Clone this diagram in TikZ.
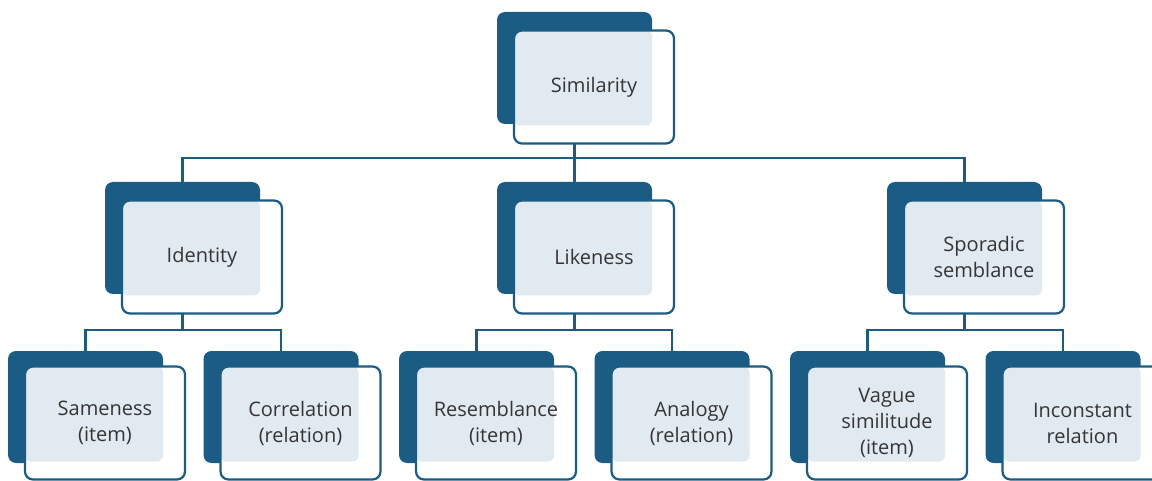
\documentclass[tikz,border=0pt]{standalone}
\usepackage{fontspec}
\setmainfont{Open Sans}
\usetikzlibrary{backgrounds}
\definecolor{dk}{HTML}{1B5C84}
\definecolor{lb}{HTML}{E1EAF1}
\definecolor{tx}{HTML}{353535}
\begin{document}
\begin{tikzpicture}[x=1pt,y=-1pt,
  backbox/.style={rectangle, rounded corners=8pt, fill=dk, minimum width=155pt, minimum height=112pt, inner sep=0pt},
  frontbox/.style={rectangle, rounded corners=8pt, draw=dk, line width=2.2pt, fill=white,
     minimum width=160pt, minimum height=113pt, inner sep=0pt, align=center,
     font=\fontsize{20}{26}\selectfont, text=tx,
     path picture={\fill[lb, rounded corners=6pt] (path picture bounding box.north west) rectangle ([xshift=-22pt, yshift=18pt]path picture bounding box.south east);}},
  conn/.style={draw=dk, line width=2.8pt}]
\useasboundingbox (0,0) rectangle (1152,481);
% bus coordinates
\coordinate (bus1) at (0,158);
\coordinate (bus2) at (0,330);
% level 1
\node[backbox] (simB) at (574.5,68) {};
\node[frontbox] (simF) at (594,87) {Similarity};
% level 2
\node[backbox] (idB) at (182.5,238) {};
\node[frontbox] (idF) at (202,257) {Identity};
\node[backbox] (likB) at (574.5,238) {};
\node[frontbox] (likF) at (594,257) {Likeness};
\node[backbox] (spoB) at (964.5,238) {};
\node[frontbox] (spoF) at (984,257) {Sporadic\\semblance};
% level 3
\node[backbox] (samB) at (85.5,407) {};
\node[frontbox] (samF) at (105,423) {Sameness\\(item)};
\node[backbox] (corB) at (281,407) {};
\node[frontbox] (corF) at (300.5,423) {Correlation\\(relation)};
\node[backbox] (resB) at (476.5,407) {};
\node[frontbox] (resF) at (496,423) {Resemblance\\(item)};
\node[backbox] (anaB) at (672,407) {};
\node[frontbox] (anaF) at (691.5,423) {Analogy\\(relation)};
\node[backbox] (vagB) at (867.5,407) {};
\node[frontbox] (vagF) at (887,423) {Vague\\similitude\\(item)};
\node[backbox] (incB) at (1063,407) {};
\node[frontbox] (incF) at (1082.5,423) {Inconstant\\relation};
% connectors
\begin{scope}[on background layer]
\draw[conn] (simB) -- (simB |- bus1) -| (idB);
\draw[conn] (simB |- bus1) -| (likB);
\draw[conn] (simB |- bus1) -| (spoB);
\draw[conn] (idB) -- (idB |- bus2) -| (samB);
\draw[conn] (idB |- bus2) -| (corB);
\draw[conn] (likB) -- (likB |- bus2) -| (resB);
\draw[conn] (likB |- bus2) -| (anaB);
\draw[conn] (spoB) -- (spoB |- bus2) -| (vagB);
\draw[conn] (spoB |- bus2) -| (incB);
\end{scope}
\end{tikzpicture}
\end{document}
